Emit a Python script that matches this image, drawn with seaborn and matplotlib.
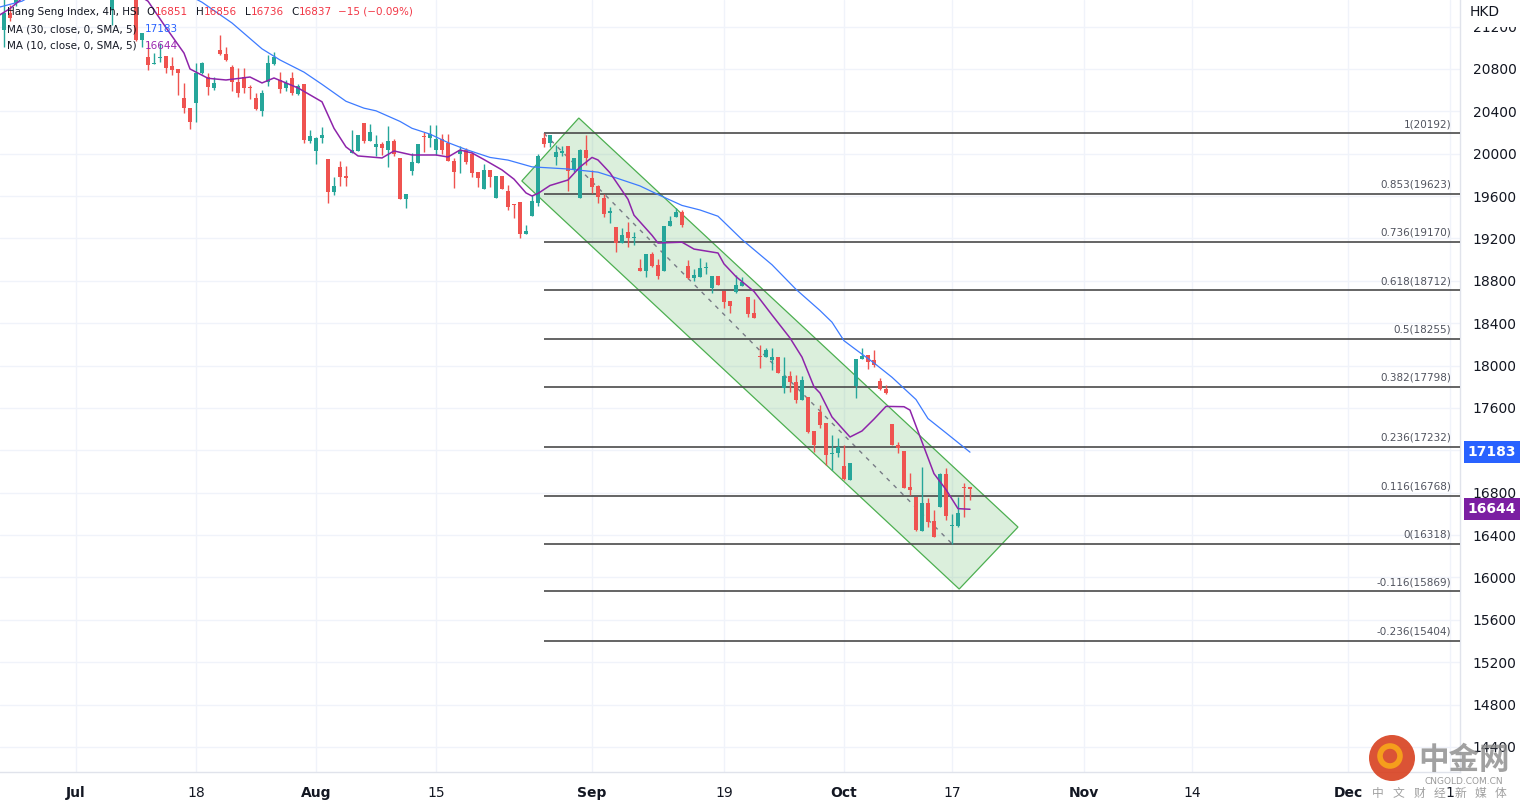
import matplotlib
matplotlib.use('Agg')
import matplotlib.pyplot as plt
import seaborn as sns
import numpy as np
from matplotlib.patches import Polygon, Ellipse, Rectangle

# ---- data (Hang Seng Index, 4h bars) ----
opens = [21168, 21329, 21420, 21560, 21650, 21740, 21690, 21620, 21700, 21820,
         21780, 21760, 21850, 21950, 21920, 21820, 21760, 21680, 21357, 21520,
         21640, 21700, 21620, 21074, 20913, 20847, 20905, 20923, 20828, 20800,
         20526, 20432, 20479, 20762, 20724, 20621, 20979, 20942, 20819, 20677,
         20724, 20630, 20526, 20404, 20677, 20847, 20696, 20621, 20715, 20564,
         20658, 20120, 20026, 20149, 19950, 19639, 19875, 19790, 20007, 20026,
         20290, 20120, 20064, 20092, 20035, 20120, 19960, 19573, 19837, 19913,
         20167, 20149, 20035, 20139, 20101, 19931, 19998, 20035, 19998, 19828,
         19667, 19847, 19582, 19790, 19648, 19525, 19544, 19242, 19412, 19535,
         20149, 20101, 19969, 20007, 20073, 19847, 19582, 20035, 19771, 19696,
         19582, 19441, 19309, 19157, 19261, 19200, 18922, 18893, 19054, 18950,
         18893, 19318, 19403, 19450, 18941, 18827, 18837, 18922, 18733, 18846,
         18704, 18610, 18695, 18752, 18648, 18497, 18087, 18081, 18053, 18081,
         17789, 17902, 17846, 17675, 17704, 17383, 17562, 17458, 17166, 17175,
         17052, 16920, 17807, 18062, 18100, 18053, 17855, 17779, 17449, 17251,
         17194, 16854, 16760, 16439, 16703, 16533, 16665, 16977, 16486, 16486,
         16854, 16851]
highs = [21480, 21400, 21620, 21700, 21780, 21820, 21760, 21720, 21860, 21900,
         21840, 21880, 22000, 22050, 21980, 21900, 21800, 21720, 21600, 21700,
         21760, 21740, 21680, 21140, 21055, 20951, 21045, 20923, 20913, 20800,
         20668, 20432, 20857, 20866, 20762, 20724, 21121, 21008, 20838, 20809,
         20809, 20649, 20573, 20602, 20932, 20960, 20772, 20696, 20772, 20658,
         20658, 20224, 20158, 20252, 19950, 19780, 19931, 19884, 20224, 20177,
         20290, 20281, 20177, 20111, 20262, 20139, 19960, 19620, 20007, 20092,
         20205, 20271, 20271, 20186, 20186, 19960, 20073, 20054, 20016, 19828,
         19903, 19847, 19790, 19790, 19705, 19525, 19544, 19327, 19611, 19998,
         20192, 20177, 20082, 20073, 20073, 19960, 20045, 20177, 19847, 19705,
         19620, 19497, 19309, 19299, 19356, 19261, 19006, 19054, 19072, 19006,
         19318, 19412, 19488, 19469, 18997, 18912, 19016, 18978, 18846, 18846,
         18704, 18610, 18855, 18837, 18648, 18629, 18195, 18166, 18166, 18081,
         18081, 17949, 17911, 17902, 17704, 17383, 17628, 17458, 17345, 17317,
         17251, 17081, 18062, 18166, 18100, 18147, 17883, 17817, 17449, 17279,
         17194, 16986, 16760, 17043, 16750, 16637, 16986, 17033, 16599, 16760,
         16892, 16856]
lows = [21008, 21250, 21390, 21500, 21600, 21640, 21580, 21560, 21660, 21740,
        21700, 21720, 21800, 21880, 21780, 21700, 21620, 21520, 21215, 21480,
        21580, 21600, 21060, 21008, 20791, 20847, 20866, 20762, 20743, 20555,
        20385, 20234, 20300, 20753, 20555, 20602, 20932, 20875, 20592, 20536,
        20573, 20517, 20413, 20356, 20640, 20838, 20573, 20592, 20555, 20555,
        20101, 20101, 19903, 20101, 19535, 19611, 19696, 19696, 20007, 20026,
        20101, 20120, 19979, 19988, 19875, 19979, 19573, 19488, 19799, 19913,
        20016, 20064, 19988, 19998, 19931, 19677, 19818, 19903, 19780, 19686,
        19667, 19686, 19582, 19667, 19469, 19393, 19205, 19242, 19412, 19507,
        20064, 20064, 19894, 19979, 19648, 19828, 19582, 19894, 19629, 19535,
        19403, 19346, 19072, 19157, 19120, 19139, 18893, 18837, 18931, 18818,
        18893, 19318, 19403, 19308, 18818, 18799, 18837, 18865, 18686, 18761,
        18544, 18497, 18686, 18752, 18459, 18450, 17978, 18081, 17959, 17930,
        17742, 17751, 17647, 17675, 17364, 17185, 17411, 17062, 17014, 17137,
        16920, 16920, 17694, 18062, 17968, 17987, 17770, 17732, 17251, 17175,
        16845, 16779, 16439, 16439, 16477, 16382, 16665, 16543, 16318, 16477,
        16571, 16736]
closes = [21329, 21281, 21560, 21650, 21740, 21690, 21620, 21700, 21820, 21780,
          21760, 21850, 21950, 21920, 21820, 21760, 21680, 21580, 21520, 21640,
          21700, 21620, 21074, 21140, 20838, 20857, 20913, 20809, 20791, 20762,
          20432, 20300, 20762, 20857, 20630, 20668, 20942, 20885, 20677, 20573,
          20621, 20616, 20422, 20573, 20857, 20913, 20611, 20668, 20573, 20640,
          20130, 20167, 20149, 20177, 19639, 19696, 19780, 19771, 20035, 20177,
          20120, 20205, 20092, 20054, 20120, 19998, 19573, 19620, 19922, 20092,
          20158, 20186, 20139, 20035, 19931, 19828, 20035, 19922, 19818, 19771,
          19847, 19780, 19790, 19667, 19497, 19516, 19242, 19271, 19554, 19979,
          20092, 20177, 20016, 20026, 19837, 19960, 20035, 19960, 19686, 19592,
          19431, 19460, 19157, 19233, 19205, 19210, 18893, 19054, 18941, 18846,
          19318, 19365, 19450, 19327, 18827, 18855, 18922, 18931, 18846, 18761,
          18601, 18563, 18761, 18789, 18487, 18450, 18078, 18147, 18081, 17930,
          17902, 17846, 17675, 17864, 17373, 17251, 17439, 17157, 17175, 17232,
          16930, 17081, 18062, 18091, 18034, 18006, 17779, 17742, 17251, 17222,
          16845, 16826, 16448, 16703, 16524, 16382, 16977, 16580, 16495, 16609,
          16845, 16837]

# moving averages sampled along their drawn paths (bar index, value)
ma30_idx = [-1, 3, 8, 15, 22, 28, 33, 38, 43, 46, 50, 53, 57, 60, 62, 66, 68, 71,
            74, 77, 81, 84, 88, 94, 99, 102, 106, 109, 113, 116, 119, 123, 128,
            132, 136, 138, 140, 142, 145, 148, 152, 154, 157, 161]
ma30_val = [21380, 21440, 21600, 21720, 21700, 21580, 21430, 21234, 20990, 20885,
            20770, 20655, 20495, 20430, 20405, 20305, 20240, 20185, 20105, 20040,
            19965, 19940, 19876, 19856, 19826, 19772, 19696, 19615, 19512, 19469,
            19410, 19190, 18952, 18720, 18520, 18410, 18235, 18150, 18025, 17890,
            17680, 17500, 17365, 17183]
ma10_idx = [-1, 1, 5, 12, 18, 24, 27, 30, 31, 34, 37, 41, 43, 45, 49, 53, 55, 57,
            59, 63, 65, 68, 72, 74, 76, 78, 80, 83, 85, 87, 88, 89, 91, 94, 96, 98,
            99, 101, 104, 105, 108, 109, 113, 115, 119, 120, 122, 125, 128, 131,
            133, 135, 136, 138, 141, 143, 145, 147, 150, 151, 153, 155, 157, 159, 161]
ma10_val = [21300, 21370, 21560, 21700, 21650, 21440, 21190, 20950, 20800, 20712,
            20696, 20724, 20668, 20715, 20621, 20490, 20240, 20064, 19979, 19960,
            20026, 19988, 19988, 19969, 20035, 20007, 19945, 19847, 19760, 19630,
            19601, 19625, 19700, 19752, 19875, 19965, 19941, 19820, 19570, 19420,
            19230, 19157, 19165, 19100, 19063, 18960, 18840, 18700, 18478, 18261,
            18080, 17800, 17741, 17515, 17326, 17383, 17495, 17615, 17612, 17580,
            17280, 16980, 16830, 16650, 16644]

# Fibonacci retracement levels
fib_ratios = ['1', '0.853', '0.736', '0.618', '0.5', '0.382', '0.236', '0.116', '0',
              '-0.116', '-0.236']
fib_prices = [20192, 19623, 19170, 18712, 18255, 17798, 17232, 16768, 16318, 15869, 15404]
fib_start = 90

# descending channel corners and trend line anchors
channel_idx = [86.3, 95.8, 169.0, 159.2]
channel_val = [19743, 20337, 16476, 15891]
trend_idx = [90, 158]
trend_val = [20192, 16318]

# axis ticks (17200 sits under the MA30 price tag, so its label is not shown)
price_ticks = [14400, 14800, 15200, 15600, 16000, 16400, 16800, 17200, 17600,
               18000, 18400, 18800, 19200, 19600, 20000, 20400, 20800, 21200]
price_labels = ['14400', '14800', '15200', '15600', '16000', '16400', '16800', '',
                '17600', '18000', '18400', '18800', '19200', '19600', '20000',
                '20400', '20800', '21200']
date_pos = [12, 32, 52, 72, 98, 120, 140, 158, 180, 198, 224, 241]
date_labels = ['Jul', '18', 'Aug', '15', 'Sep', '19', 'Oct', '17', 'Nov', '14', 'Dec', '1']
month_names = {'Jul', 'Aug', 'Sep', 'Oct', 'Nov', 'Dec'}

UP, DOWN = '#26a69a', '#ef5350'
W, H = 1525, 811

sns.set_theme(style='white')
plt.rcParams['font.family'] = ['DejaVu Sans', 'Noto Sans CJK SC']

fig = plt.figure(figsize=(W / 100, H / 100), dpi=100)
ax = fig.add_axes([0, 1 - 772 / H, 1460 / W, 772 / H])
ax.set_xlim(-0.667, 242.67)
ax.set_ylim(14164, 21451)

# grid / axes
ax.set_yticks(price_ticks)
ax.set_yticklabels(price_labels)
ax.yaxis.tick_right()
ax.tick_params(axis='y', length=0, pad=9, labelsize=10, labelcolor='#131722')
ax.set_xticks(date_pos)
ax.set_xticklabels(date_labels)
ax.tick_params(axis='x', length=0, pad=10, labelsize=10, labelcolor='#131722')
for lbl in ax.get_xticklabels():
    if lbl.get_text() in month_names:
        lbl.set_fontweight('bold')
ax.grid(True, color='#f0f3fa', lw=1)
for s in ['top', 'left']:
    ax.spines[s].set_visible(False)
for s in ['right', 'bottom']:
    ax.spines[s].set_color('#e0e3eb')
    ax.spines[s].set_linewidth(1)

# channel
ax.add_patch(Polygon(list(zip(channel_idx, channel_val)), closed=True,
                     facecolor=(0.298, 0.686, 0.314, 0.2), edgecolor='#4caf50',
                     lw=0.9, zorder=2))
ax.plot(trend_idx, trend_val, color='#787b86', lw=1, ls=(0, (3, 4)), zorder=3)

# fib levels
ax.hlines(fib_prices, fib_start, 242.67, color='#4a4a4a', lw=1.2, zorder=3)
for r, p in zip(fib_ratios, fib_prices):
    ax.annotate(f'{r}({p})', xy=(241.2, p), xytext=(0, 3), textcoords='offset points',
                ha='right', va='bottom', fontsize=7.5, color='#50535e')

# candles
idx = np.arange(len(closes))
o, h, l, c = map(np.array, (opens, highs, lows, closes))
cols = np.where(c >= o, UP, DOWN)
ax.vlines(idx, l, h, colors=cols, lw=1, zorder=4)
ax.bar(idx, np.maximum(np.abs(c - o), 9), bottom=np.minimum(o, c), width=0.72,
       color=cols, linewidth=0, zorder=5)

# moving averages
sns.lineplot(x=ma30_idx, y=ma30_val, ax=ax, color='#3d7bff', lw=0.9, zorder=6)
sns.lineplot(x=ma10_idx, y=ma10_val, ax=ax, color='#8e24aa', lw=1.1, zorder=6)

# last value tags on price scale
for val, col in [(ma30_val[-1], '#2962ff'), (ma10_val[-1], '#7b1fa2')]:
    ax.annotate(f'{val}', xy=(1492 / 1460, val), xycoords=('axes fraction', 'data'),
                ha='center', va='center', color='white', fontsize=10, fontweight='bold',
                bbox=dict(boxstyle='square,pad=0.3', fc=col, ec='none'),
                annotation_clip=False, zorder=10)

# currency label over the top tick
fig.add_artist(Rectangle((1462 / W, 1 - 27 / H), 63 / W, 27 / H, transform=fig.transFigure,
                         facecolor='white', edgecolor='none', zorder=8))
fig.text(1470 / W, 1 - 12 / H, 'HKD', fontsize=10, color='#131722', va='center',
         ha='left', zorder=9)

# legend rows (coloured runs)
renderer = fig.canvas.get_renderer()


def draw_runs(x0, y0, runs, size=7.5):
    x = x0
    for txt, col, gap in runs:
        t = fig.text(x / W, 1 - y0 / H, txt, color=col, fontsize=size, va='center',
                     ha='left', zorder=9)
        x += t.get_window_extent(renderer=renderer).width + gap


dark = '#131722'
red = '#f23645'
draw_runs(7, 12, [('Hang Seng Index, 4h, HSI', dark, 7), ('O', dark, 0),
                  (f'{opens[-1]}', red, 8), ('H', dark, 0), (f'{highs[-1]}', red, 8),
                  ('L', dark, 0), (f'{lows[-1]}', red, 8), ('C', dark, 0),
                  (f'{closes[-1]}', red, 6), ('\u221215 (\u22120.09%)', red, 0)])
draw_runs(7, 29, [('MA (30, close, 0, SMA, 5)', dark, 8), (f'{ma30_val[-1]}', '#2962ff', 0)])
draw_runs(7, 46, [('MA (10, close, 0, SMA, 5)', dark, 8), (f'{ma10_val[-1]}', '#9c27b0', 0)])

# watermark
fig.add_artist(Ellipse((1392 / W, 1 - 758 / H), 46 / W, 46 / H, transform=fig.transFigure,
                       facecolor='#d8401f', edgecolor='none', alpha=0.9, zorder=8))
fig.add_artist(Ellipse((1390 / W, 1 - 756 / H), 20 / W, 20 / H, transform=fig.transFigure,
                       facecolor='none', edgecolor='#f7a31b', lw=4, alpha=0.95, zorder=8))
fig.text(1464 / W, 1 - 760 / H, '中金网', family=['Noto Sans CJK SC'], fontsize=22,
         fontweight='bold', color='#8a8a8a', alpha=0.8, ha='center', va='center', zorder=9)
fig.text(1464 / W, 1 - 781 / H, 'CNGOLD.COM.CN', fontsize=6.5, color='#9a9a9a',
         ha='center', va='center', zorder=9)
for k, ch in enumerate('中文财经新媒体'):
    fig.text((1378 + 20.5 * k) / W, 1 - 793 / H, ch, family=['Noto Sans CJK SC'],
             fontsize=8.5, color='#a0a0a0', ha='center', va='center', zorder=9)

fig.savefig('out.png', dpi=100)
